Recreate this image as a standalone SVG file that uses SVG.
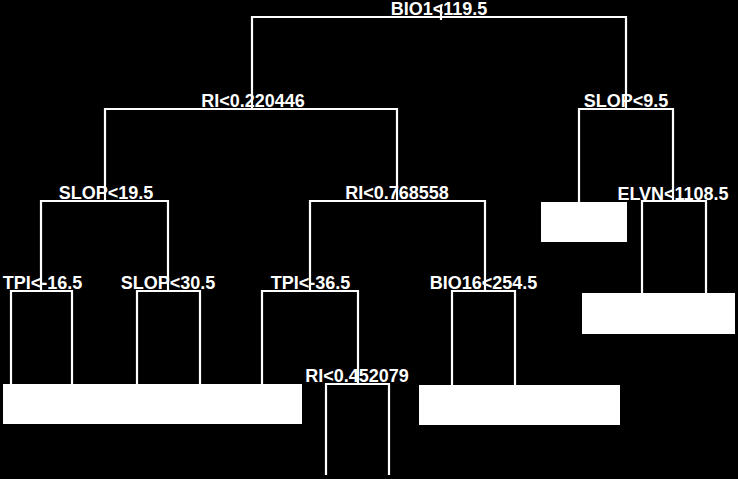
<svg xmlns="http://www.w3.org/2000/svg" width="738" height="479" viewBox="0 0 738 479">
<style>
.e{fill:none;stroke:#fff;stroke-width:2.2}
.t{font-family:"Liberation Sans",Arial,sans-serif;font-weight:bold;font-size:18px;fill:#fff;text-anchor:middle}
.leaf{fill:#fff}
</style>
<rect x="0" y="0" width="738" height="479" fill="#000"/>
<g id="connectors">
<path class="e" d="M441,5V20"/>
<path class="e" d="M252,109V17H626V109"/>
<path class="e" d="M105,201V109H397V201"/>
<path class="e" d="M579,203V109H673V201"/>
<path class="e" d="M41,291V201H168V291"/>
<path class="e" d="M310,291V201H485V291"/>
<path class="e" d="M642,294V201H706V294"/>
<path class="e" d="M11,385V291H72V385"/>
<path class="e" d="M137,385V291H200V385"/>
<path class="e" d="M262,385V291H358V384"/>
<path class="e" d="M452,385V291H515V385"/>
<path class="e" d="M326,475V384H389V475"/>
</g>
<g id="n_root"><text class="t" x="439" y="15">BIO1&lt;119.5</text></g>
<g id="n_ri1"><text class="t" x="253" y="107">RI&lt;0.220446</text></g>
<g id="n_slop1"><text class="t" x="626" y="107">SLOP&lt;9.5</text></g>
<g id="n_slop2"><text class="t" x="106" y="199">SLOP&lt;19.5</text></g>
<g id="n_ri2"><text class="t" x="397" y="199">RI&lt;0.768558</text></g>
<g id="n_elvn"><text class="t" x="673" y="200">ELVN&lt;1108.5</text></g>
<g id="n_tpi1"><text class="t" x="42.5" y="289">TPI&lt;-16.5</text></g>
<g id="n_slop3"><text class="t" x="168" y="289">SLOP&lt;30.5</text></g>
<g id="n_tpi2"><text class="t" x="310.5" y="289">TPI&lt;-36.5</text></g>
<g id="n_bio16"><text class="t" x="483.5" y="289">BIO16&lt;254.5</text></g>
<g id="n_ri3"><text class="t" x="357" y="382">RI&lt;0.452079</text></g>
<g id="leaf_a"><rect class="leaf" x="541" y="202" width="86" height="40"/></g>
<g id="leaf_b"><rect class="leaf" x="582" y="293" width="153" height="41"/></g>
<g id="leaf_c"><rect class="leaf" x="3" y="384" width="299" height="40"/></g>
<g id="leaf_d"><rect class="leaf" x="419" y="385" width="201" height="40"/></g>
</svg>
